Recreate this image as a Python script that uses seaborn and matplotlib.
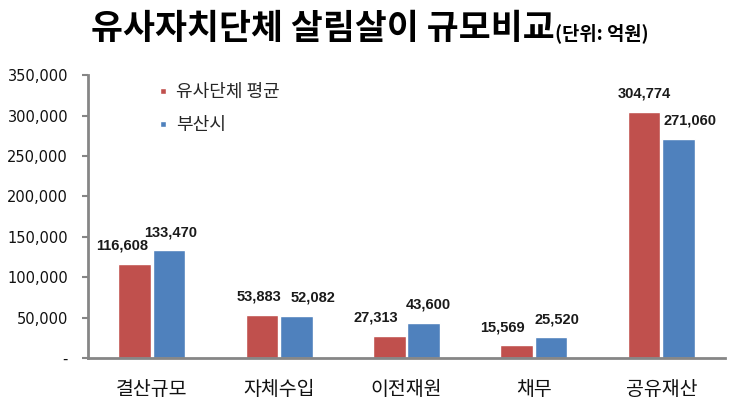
import matplotlib
matplotlib.use("Agg")
import matplotlib.pyplot as plt
from matplotlib.lines import Line2D
from matplotlib.ticker import FuncFormatter
import seaborn as sns
import pandas as pd

categories = ["결산규모", "자체수입", "이전재원", "채무", "공유재산"]
series_names = ["유사단체 평균", "부산시"]
avg_values = [116608, 53883, 27313, 15569, 304774]
busan_values = [133470, 52082, 43600, 25520, 271060]
colors = ["#C0504D", "#4F81BD"]

# label horizontal nudges (points), layout only
label_dx = [[-9, -2, -10, -10, 0], [1, 12, 3, 4, 8]]

df = pd.DataFrame({
    "category": categories * 2,
    "series": [series_names[0]] * len(categories) + [series_names[1]] * len(categories),
    "value": avg_values + busan_values,
})

sns.set_theme(style="white")
plt.rcParams["font.family"] = ["Noto Sans CJK KR", "DejaVu Sans"]

fig = plt.figure(figsize=(7.39, 4.13), dpi=100)
ax = fig.add_axes([0.119, 0.133, 0.862, 0.685])

sns.barplot(data=df, x="category", y="value", hue="series", order=categories,
            hue_order=series_names, palette=colors, width=0.54, gap=0.05,
            edgecolor="white", linewidth=1, ax=ax, legend=False, errorbar=None,
            saturation=1)

for si, cont in enumerate(ax.containers):
    for bi, (bar, v) in enumerate(zip(cont.patches, cont.datavalues)):
        ax.annotate(f"{v:,.0f}", xy=(bar.get_x() + bar.get_width() / 2, bar.get_height()),
                    xytext=(label_dx[si][bi], 8), textcoords="offset points",
                    ha="center", va="bottom", fontsize=10.5, fontweight="bold",
                    family="Liberation Sans", color="#1a1a1a")

ax.set_xlim(-0.5, 4.5)
ax.set_ylim(0, 350000)
ax.set_yticks(range(0, 350001, 50000))
ax.yaxis.set_major_formatter(FuncFormatter(lambda v, p: "-" if v == 0 else f"{v:,.0f}"))
ax.set_xlabel("")
ax.set_ylabel("")
for lbl in ax.get_yticklabels():
    lbl.set_family("DejaVu Sans")
ax.tick_params(axis="y", labelsize=10.5, length=4.3, width=1.5, color="#868686",
               direction="out", left=True, pad=10, labelcolor="#111111")
ax.tick_params(axis="x", labelsize=14, length=0, pad=15, labelcolor="#111111")
for s in ["top", "right"]:
    ax.spines[s].set_visible(False)
for s in ["left", "bottom"]:
    ax.spines[s].set_color("#868686")
    ax.spines[s].set_linewidth(2)

handles = [Line2D([0], [0], marker="s", linestyle="", markersize=5,
                  markerfacecolor=c, markeredgecolor="white") for c in colors]
ax.legend(handles, series_names, loc="upper left", bbox_to_anchor=(0.084, 1.03),
          frameon=False, fontsize=13, handlelength=0.6, handletextpad=0.4,
          labelspacing=0.85)

fig.text(0.751, 0.905, "유사자치단체 살림살이 규모비교", ha="right", va="baseline",
         fontsize=25, fontweight="bold", color="black")
fig.text(0.751, 0.905, "(단위: 억원)", ha="left", va="baseline",
         fontsize=13.5, fontweight="bold", color="black")

fig.savefig("out.png", dpi=100, facecolor="white")
